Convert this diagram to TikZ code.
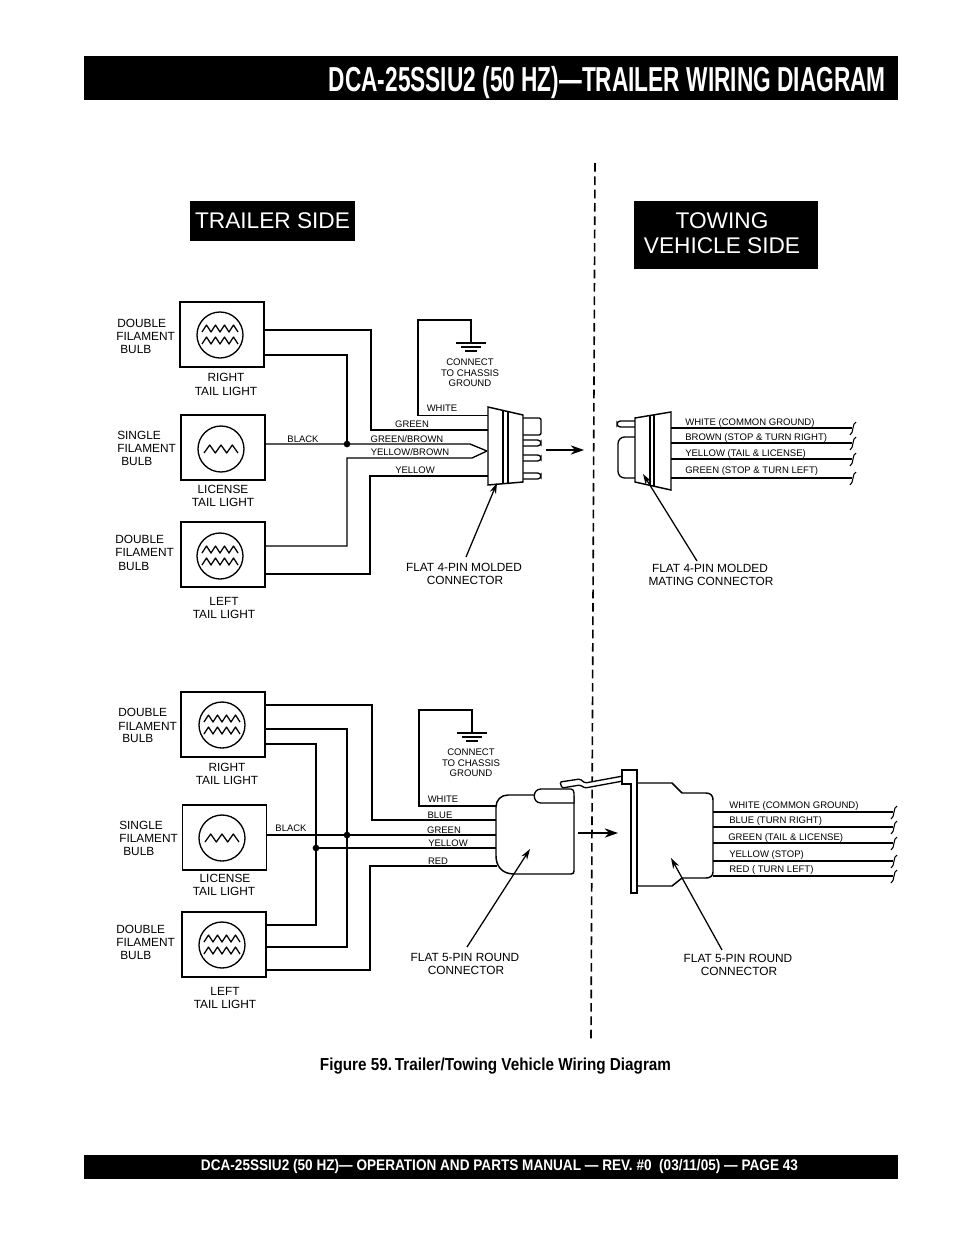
\documentclass[tikz,border=0pt]{standalone}
\usepackage{fontspec}
\usepackage{graphicx}
\setmainfont{Liberation Sans}
\usetikzlibrary{arrows.meta}
\tikzset{
  wire/.style={line width=1pt,draw=black},
  tailbox/.style={draw,line width=1pt,minimum width=63pt,minimum height=48.75pt,inner sep=0pt},
  lbl/.style={inner sep=0pt,font=\fontsize{8.9}{10}\selectfont,text=black},
  wl/.style={inner sep=0pt,font=\fontsize{7.1}{8}\selectfont,text=black},
  rl/.style={inner sep=0pt,anchor=west,font=\fontsize{7.15}{8}\selectfont,text=black},
  gl/.style={inner sep=0pt,font=\fontsize{7.2}{8}\selectfont,text=black},
  lead/.style={line width=0.95pt,-{Stealth[length=8pt,width=5pt]}},
  push/.style={line width=1pt,-{Stealth[length=10pt,width=7pt]}},
  dot/.style={circle,fill=black,inner sep=0pt,minimum size=5pt},
  hd/.style={fill=black,inner sep=0pt},
  hdt/.style={text=white,inner sep=0pt,font=\fontsize{17}{18.5}\selectfont},
  dbulb/.pic={
    \draw[line width=1pt] (0,0) circle (23);
    \draw[line width=0.95pt,line join=round] (-18,-3)--(-13.5,-10)--(-9,-3)--(-4.5,-10)--(0,-3)--(4.5,-10)--(9,-3)--(13.5,-10)--(18,-3);
    \draw[line width=0.95pt,line join=round] (-18,9)--(-13.5,2)--(-9,9)--(-4.5,2)--(0,9)--(4.5,2)--(9,9)--(13.5,2)--(18,9);
  },
  sbulb/.pic={
    \draw[line width=1pt] (0,0) circle (23);
    \draw[line width=0.95pt,line join=round] (-17,4)--(-11.3,-4)--(-5.7,4)--(0,-4)--(5.7,4)--(11.3,-4)--(17,4);
  },
  squig/.pic={
    \draw[line width=0.8pt] (4,-6) .. controls (0,-5) and (2,5) .. (-2,7);
  },
  ground/.pic={
    \draw[line width=1pt] (-15,0)--(15,0);
    \draw[line width=1pt] (-10,4)--(10,4);
    \draw[line width=1pt] (-6,8)--(6,8);
  },
}
\begin{document}
\begin{tikzpicture}[x=0.75pt,y=-0.75pt]
\useasboundingbox (0,0) rectangle (954,1235);
\fill[white] (0,0) rectangle (954,1235);

% bars and headings
\fill[black] (84,56) rectangle (898,100);
\fill[black] (84,1155) rectangle (898,1179);
\node[inner sep=0pt,anchor=east,text=white] (title) at (886,83)
  {\resizebox{417.75pt}{\height}{\fontsize{26}{28}\selectfont\bfseries DCA-25SSIU2 (50 HZ)—TRAILER WIRING DIAGRAM}};
\node[inner sep=0pt,text=white] (foot) at (499.5,1167)
  {\resizebox{447.75pt}{\height}{\fontsize{11.5}{13}\selectfont\bfseries DCA-25SSIU2 (50 HZ)— OPERATION AND PARTS MANUAL — REV. \#0\ \ (03/11/05) — PAGE 43}};
\node[inner sep=0pt] (cap) at (495.5,1066)
  {\resizebox{263.25pt}{\height}{\fontsize{13}{15}\selectfont\bfseries Figure 59.\kern-0.1em\ Trailer/Towing Vehicle Wiring Diagram}};
\node[hd,minimum width=123.75pt,minimum height=30pt] (hdL) at (272.5,221) {};
\node[hdt] (hdLt) at (272.5,221) {TRAILER SIDE};
\node[hd,minimum width=138pt,minimum height=51pt] (hdR) at (726,235) {};
\node[hdt] (hdRa) at (722,221) {TOWING};
\node[hdt] (hdRb) at (722,246) {VEHICLE SIDE};

% divider
\draw[line width=1.2pt,dash pattern=on 6.5pt off 3.5pt] (595,163)--(591,1040);

%%%%% TOP, trailer side
\node[tailbox] (a1) at (222,334.5) {};
\node[tailbox] (a2) at (223,447.5) {};
\node[tailbox] (a3) at (223,554.5) {};
\pic at (220,335) {dbulb};
\pic at (221,449) {sbulb};
\pic at (220,556) {dbulb};

\node[lbl,anchor=west] (a1t1) at (117,323) {DOUBLE};
\node[lbl,anchor=west] (a1t2) at (116,336) {FILAMENT};
\node[lbl,anchor=west] (a1t3) at (120,349.5) {BULB};
\node[lbl,anchor=west] (a2t1) at (117,435) {SINGLE};
\node[lbl,anchor=west] (a2t2) at (117,448) {FILAMENT};
\node[lbl,anchor=west] (a2t3) at (121,461.5) {BULB};
\node[lbl,anchor=west] (a3t1) at (115,539) {DOUBLE};
\node[lbl,anchor=west] (a3t2) at (115,552.5) {FILAMENT};
\node[lbl,anchor=west] (a3t3) at (118,566.5) {BULB};
\node[lbl] (a1c1) at (226,377) {RIGHT};
\node[lbl] (a1c2) at (226,391) {TAIL LIGHT};
\node[lbl] (a2c1) at (223,489) {LICENSE};
\node[lbl] (a2c2) at (223,502) {TAIL LIGHT};
\node[lbl] (a3c1) at (224,601) {LEFT};
\node[lbl] (a3c2) at (224,614) {TAIL LIGHT};

% 4-pin connector (trailer)
\coordinate (pW) at (488,415.5);
\coordinate (pG) at (488,430);
\coordinate (pC) at (487,451);
\coordinate (pY) at (488,476);
\coordinate (pE) at (471,320);
\coordinate (jA) at (347,444);
\coordinate (gA) at (471,343);
\draw[wire] (a1.east |- 0,330) -- (371,330) |- (pG);
\draw[wire] (a1.east |- 0,355) -- (347,355) -- (jA);
\draw[wire] (a2.east |- jA) -- (jA) -- (470,444) -- (pC);
\draw[wire] (a3.east |- 0,546) -- (347,546) |- (472,458) -- (pC);
\draw[wire] (a3.east |- 0,574) -- (370,574) |- (pY);
\draw[wire,line width=1.2pt] (pW) -- (418,415.5) |- (pE) -- (gA);
\node[dot] (da) at (jA) {};
\pic at (gA) {ground};

\draw[line width=1pt,rounded corners=1.5pt] (523,418) -- (541,418) -- (541,435) -- (523,435);
\foreach \py in {443,458,476}{
  \draw[line width=1pt,rounded corners=2.5pt] (523,\py-3) -- (541,\py-3) -- (541,\py+3) -- (523,\py+3);
}
\draw[line width=1.1pt,fill=white] (488,407) -- (523,415) -- (523,482) -- (488,485) -- cycle;
\draw[line width=1.3pt] (503,410.5) -- (503,484);
\draw[line width=1.1pt] (508,411.5) -- (508,483.5);

\node[wl] (w1) at (412,424.5) {GREEN};
\node[wl] (w2) at (407,439) {GREEN/BROWN};
\node[wl] (w3) at (410,452.5) {YELLOW/BROWN};
\node[wl] (w4) at (415,470) {YELLOW};
\node[wl] (w5) at (442,408.5) {WHITE};
\node[wl] (w6) at (303,439) {BLACK};
\node[gl] (g1a) at (470,362.5) {CONNECT};
\node[gl] (g1b) at (470,373) {TO CHASSIS};
\node[gl] (g1c) at (470,383.5) {GROUND};
\node[lbl] (c4a) at (464,567) {FLAT 4-PIN MOLDED};
\node[lbl] (c4b) at (465,580) {CONNECTOR};
\draw[lead] (466,557) -- (497,483);
\draw[push] (546,450) -- (584,450);

%%%%% TOP, vehicle side
\draw[line width=1pt,rounded corners=2.5pt] (635,421) -- (617,421) -- (617,427) -- (635,427);
\draw[line width=1pt,rounded corners=5pt] (635,437) -- (618,437) -- (618,478) -- (635,478);
\draw[line width=1.1pt,fill=white] (635,418) -- (671,412) -- (671,490) -- (635,482) -- cycle;
\draw[line width=1.3pt] (650,416) -- (650,485);
\draw[line width=1.1pt] (654,415) -- (654,486);
\foreach \wy/\wn in {428/q1,443/q2,459/q3,478/q4}{
  \coordinate (\wn) at (852,\wy);
  \draw[wire] (671,\wy) -- (\wn);
  \pic at (\wn) {squig};
}
\node[rl] (r1) at (685,423.5) {WHITE (COMMON GROUND)};
\node[rl] (r2) at (685,438.5) {BROWN (STOP \& TURN RIGHT)};
\node[rl] (r3) at (685,454.5) {YELLOW (TAIL \& LICENSE)};
\node[rl] (r4) at (685,471) {GREEN (STOP \& TURN LEFT)};
\node[lbl] (m4a) at (710,568) {FLAT 4-PIN MOLDED};
\node[lbl] (m4b) at (711,581) {MATING CONNECTOR};
\draw[lead] (697,561) -- (643,474);

%%%%% BOTTOM, trailer side
\node[tailbox] (b1) at (223,724.5) {};
\node[tailbox] (b2) at (224.5,837.5) {};
\node[tailbox] (b3) at (224,944.5) {};
\pic at (222,725) {dbulb};
\pic at (222,838) {sbulb};
\pic at (222,945) {dbulb};

\node[lbl,anchor=west] (b1t1) at (118,712.5) {DOUBLE};
\node[lbl,anchor=west] (b1t2) at (118,726) {FILAMENT};
\node[lbl,anchor=west] (b1t3) at (122,738.5) {BULB};
\node[lbl,anchor=west] (b2t1) at (119,825) {SINGLE};
\node[lbl,anchor=west] (b2t2) at (119,838.5) {FILAMENT};
\node[lbl,anchor=west] (b2t3) at (123,851.5) {BULB};
\node[lbl,anchor=west] (b3t1) at (116,929) {DOUBLE};
\node[lbl,anchor=west] (b3t2) at (116,942.5) {FILAMENT};
\node[lbl,anchor=west] (b3t3) at (120,955.5) {BULB};
\node[lbl] (b1c1) at (227,767) {RIGHT};
\node[lbl] (b1c2) at (227,780) {TAIL LIGHT};
\node[lbl] (b2c1) at (225,878) {LICENSE};
\node[lbl] (b2c2) at (224,891) {TAIL LIGHT};
\node[lbl] (b3c1) at (225,991) {LEFT};
\node[lbl] (b3c2) at (225,1004) {TAIL LIGHT};

\coordinate (sW) at (497,806);
\coordinate (sB) at (497,820);
\coordinate (sK) at (497,835);
\coordinate (sL) at (497,849);
\coordinate (sR) at (497,866);
\coordinate (jB) at (347,835);
\coordinate (jC) at (316,848);
\coordinate (sE) at (472,710);
\coordinate (gB) at (472,733);
\draw[wire] (b1.east |- 0,705) -- (372,705) |- (sB);
\draw[wire,line width=1.2pt] (b1.east |- 0,729) -- (347,729) |- (b3.east |- 0,947);
\draw[wire] (b1.east |- 0,744) -- (316,744) |- (b3.east |- 0,925);
\draw[wire,line width=1.2pt] (b2.east |- jB) -- (jB) -- (sK);
\draw[wire] (jC) -- (sL |- jC);
\draw[wire] (b3.east |- 0,970) -- (370,970) |- (sR);
\draw[wire] (sW) -- (419,806) |- (sE) -- (gB);
\node[dot] (db) at (jB) {};
\node[dot] (dc) at (jC) {};
\pic at (gB) {ground};

% 5-pin connector (trailer)
\draw[line width=1pt,fill=white,rounded corners=1pt] (560,782) -- (580,779) -- (585,783) -- (623,776) -- (623,781) -- (585,788) -- (580,785) -- (562,788) -- cycle;
\draw[line width=1.1pt,fill=white] (508,795) -- (572,795) .. controls (574,795) and (574,797) .. (574,798) -- (574,871) .. controls (574,873) and (573,874) .. (571,874) -- (514,874) .. controls (502,874) and (496,866) .. (496,856) -- (496,807) .. controls (496,800) and (501,795) .. (508,795) -- cycle;
\draw[line width=1pt,fill=white] (574,803) -- (541,803) .. controls (532,803) and (532,789) .. (541,789) -- (571,789) .. controls (573,789) and (574,791) .. (574,793) -- cycle;

\node[wl] (x1) at (443,799.5) {WHITE};
\node[wl] (x2) at (440,815) {BLUE};
\node[wl] (x3) at (444,830) {GREEN};
\node[wl] (x4) at (448,843.5) {YELLOW};
\node[wl] (x5) at (438,861) {RED};
\node[wl] (x6) at (291,828.5) {BLACK};
\node[gl] (g2a) at (471,752.5) {CONNECT};
\node[gl] (g2b) at (471,763) {TO CHASSIS};
\node[gl] (g2c) at (471,773.5) {GROUND};
\node[lbl] (c5a) at (465,957) {FLAT 5-PIN ROUND};
\node[lbl] (c5b) at (466,970) {CONNECTOR};
\draw[lead] (467,947) -- (530,849);
\draw[push] (578,833) -- (618,833);

%%%%% BOTTOM, vehicle side
\draw[line width=1.1pt,fill=white] (637,783) -- (672,783) -- (682,793) -- (706,793) .. controls (711,793) and (713,796) .. (713,800) -- (713,872) .. controls (713,876) and (710,878) .. (706,878) -- (682,878) -- (672,886) -- (637,886);
\draw[line width=1.1pt,fill=white] (622,770) -- (637,770) -- (637,893) -- (631,893) -- (631,784) -- (622,784) -- cycle;
\foreach \wy/\wn in {812/s1,827/s2,843/s3,861/s4,876/s5}{
  \coordinate (\wn) at (893,\wy);
  \draw[wire] (713,\wy) -- (\wn);
  \pic at (\wn) {squig};
}
\node[rl] (y1) at (729,806.5) {WHITE (COMMON GROUND)};
\node[rl] (y2) at (729,821.5) {BLUE (TURN RIGHT)};
\node[rl] (y3) at (728,838) {GREEN (TAIL \& LICENSE)};
\node[rl] (y4) at (729,855) {YELLOW (STOP)};
\node[rl] (y5) at (729,870) {RED ( TURN LEFT)};
\node[lbl] (m5a) at (738,958) {FLAT 5-PIN ROUND};
\node[lbl] (m5b) at (739,971) {CONNECTOR};
\draw[lead] (722,950) -- (671,858);
\end{tikzpicture}
\end{document}
